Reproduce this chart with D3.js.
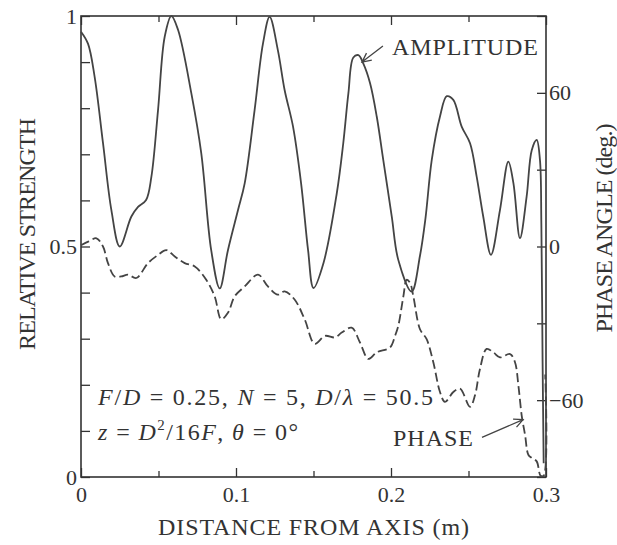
<!DOCTYPE html>
<html lang="en">
<head>
<meta charset="utf-8">
<title>Relative strength and phase vs distance from axis</title>
<script src="https://d3js.org/d3.v7.min.js"></script>
<style>
  body { margin: 0; background: #fff; }
  svg text { font-family: "Liberation Serif", "DejaVu Serif", serif; fill: #333; }
</style>
</head>
<body>
<script>
// amplitude curve
var ampDist = [0, 0.0045, 0.0088, 0.0142, 0.0196, 0.025, 0.0325, 0.0368, 0.042, 0.0454,
  0.0497, 0.054, 0.0583, 0.0626, 0.0712, 0.0776, 0.084, 0.0895, 0.0948, 0.1013,
  0.1056, 0.112, 0.1174, 0.1217, 0.127, 0.1314, 0.1368, 0.142, 0.1465, 0.150,
  0.1565, 0.165, 0.1692, 0.1725, 0.1757, 0.179, 0.1821, 0.1865, 0.1908, 0.195,
  0.2005, 0.2047, 0.2133, 0.2187, 0.2222, 0.2263, 0.2316, 0.236, 0.2402, 0.2456,
  0.251, 0.2553, 0.2595, 0.2645, 0.2703, 0.2757, 0.279, 0.2832, 0.2875, 0.2908,
  0.294, 0.2961, 0.297, 0.2978, 0.2985];
var ampValue = [0.966, 0.94, 0.868, 0.724, 0.579, 0.50, 0.565, 0.586, 0.601, 0.651,
  0.796, 0.955, 1.0, 0.97, 0.832, 0.702, 0.492, 0.409, 0.492, 0.579,
  0.637, 0.796, 0.94, 0.998, 0.926, 0.839, 0.76, 0.637, 0.492, 0.41,
  0.465, 0.615, 0.724, 0.832, 0.91, 0.915, 0.897, 0.854, 0.782, 0.688,
  0.565, 0.471, 0.402, 0.48, 0.56, 0.688, 0.782, 0.826, 0.818, 0.76,
  0.724, 0.651, 0.565, 0.482, 0.579, 0.684, 0.637, 0.518, 0.608, 0.709,
  0.731, 0.688, 0.55, 0.25, 0.03];

// phase curve (degrees)
var phaseDist = [0, 0.005, 0.01, 0.0142, 0.0174, 0.0217, 0.026, 0.0303, 0.0357, 0.0432,
  0.0497, 0.055, 0.0605, 0.0669, 0.0734, 0.0808, 0.0862, 0.0905, 0.0948, 0.0992,
  0.1056, 0.1142, 0.1206, 0.127, 0.1314, 0.1378, 0.1443, 0.1508, 0.1574, 0.1639,
  0.1682, 0.1746, 0.18, 0.1854, 0.1908, 0.1994, 0.2026, 0.2047, 0.208, 0.2101,
  0.2123, 0.2144, 0.2187, 0.223, 0.2273, 0.2316, 0.2348, 0.2402, 0.2445, 0.251,
  0.2542, 0.2574, 0.2617, 0.266, 0.2703, 0.2768, 0.28, 0.2822, 0.2843, 0.2865,
  0.2886, 0.2908, 0.294, 0.2965, 0.2985, 0.2995];
var phaseValue = [0.5, 2, 3.2, 0, -6.5, -11.7, -11.7, -11, -12.3, -6.5,
  -3.3, -1.4, -3.9, -6.5, -7.8, -13, -19.4, -28.4, -25.9, -19.4,
  -15.6, -11, -15.6, -18.8, -17.5, -20.7, -28.4, -38, -34.9, -35.5,
  -33.6, -31.7, -37.5, -43.9, -41.3, -39.4, -34.9, -31, -19.4, -13,
  -14.2, -19.4, -32.3, -36.2, -45.2, -56.8, -60.7, -56.8, -55.5, -62.6,
  -58.1, -47.8, -40, -41.3, -43.3, -42, -45.2, -54.3, -65.9, -73.6,
  -81.3, -82.6, -83.9, -89.5, -89.5, -50];

var xMajor = [0, 0.1, 0.2, 0.3];
var xMinor = [0.05, 0.15, 0.25];
var yTicks = [0, 0.1, 0.2, 0.3, 0.4, 0.5, 0.6, 0.7, 0.8, 0.9, 1];
var yLabels = [0, 0.5, 1];
var phaseTicks = [-90, -60, -30, 0, 30, 60, 90];
var phaseLabels = [-60, 0, 60];

var W = 617, H = 545;
var margin = {top: 16, right: 71, bottom: 68, left: 81};
var ink = "#333";

var svg = d3.select("body").append("svg")
    .attr("width", W)
    .attr("height", H);

var x = d3.scaleLinear().domain([0, 0.3]).range([margin.left, W - margin.right]);
var y = d3.scaleLinear().domain([0, 1]).range([H - margin.bottom, margin.top]);
var yp = d3.scaleLinear().domain([-90, 90]).range([H - margin.bottom, margin.top]);

function styleAxis(g) {
  g.select(".domain").remove();
  g.selectAll(".tick line").attr("stroke", ink).attr("stroke-width", 1.3);
  g.selectAll(".tick text").attr("font-size", 22).attr("fill", ink)
    .attr("font-family", "Liberation Serif, serif");
}

var fmt = function(d) { return d3.format("")(d).replace("-", "\u2212"); };

// bottom axis
svg.append("g").attr("transform", "translate(0," + y(0) + ")")
  .call(d3.axisBottom(x).tickValues(xMajor).tickSizeInner(-9).tickSizeOuter(0)
    .tickPadding(9).tickFormat(fmt))
  .call(styleAxis);
svg.append("g").attr("transform", "translate(0," + y(0) + ")")
  .call(d3.axisBottom(x).tickValues(xMinor).tickSizeInner(-6).tickSizeOuter(0).tickFormat(""))
  .call(styleAxis);
// top axis
svg.append("g").attr("transform", "translate(0," + y(1) + ")")
  .call(d3.axisTop(x).tickValues(xMajor).tickSizeInner(-9).tickSizeOuter(0).tickFormat(""))
  .call(styleAxis);
svg.append("g").attr("transform", "translate(0," + y(1) + ")")
  .call(d3.axisTop(x).tickValues(xMinor).tickSizeInner(-6).tickSizeOuter(0).tickFormat(""))
  .call(styleAxis);
// left axis
svg.append("g").attr("transform", "translate(" + x(0) + ",0)")
  .call(d3.axisLeft(y).tickValues(yTicks).tickSizeInner(-9).tickSizeOuter(0).tickPadding(4)
    .tickFormat(function(d) { return yLabels.indexOf(d) >= 0 ? fmt(d) : ""; }))
  .call(styleAxis);
// right axis
svg.append("g").attr("transform", "translate(" + x(0.3) + ",0)")
  .call(d3.axisRight(yp).tickValues(phaseTicks).tickSizeInner(-9).tickSizeOuter(0).tickPadding(3)
    .tickFormat(function(d) { return phaseLabels.indexOf(d) >= 0 ? fmt(d) : ""; }))
  .call(styleAxis);

// frame
svg.append("rect")
  .attr("x", x(0)).attr("y", y(1))
  .attr("width", x(0.3) - x(0)).attr("height", y(0) - y(1))
  .attr("fill", "none").attr("stroke", ink).attr("stroke-width", 1.6);

// curves
var ampLine = d3.line()
  .x(function(d, i) { return x(ampDist[i]); })
  .y(function(d) { return y(d); })
  .curve(d3.curveCatmullRom.alpha(0.5));
svg.append("path")
  .attr("d", ampLine(ampValue))
  .attr("fill", "none").attr("stroke", "#444").attr("stroke-width", 1.8);

var phaseLine = d3.line()
  .x(function(d, i) { return x(phaseDist[i]); })
  .y(function(d) { return yp(d); })
  .curve(d3.curveCatmullRom.alpha(0.5));
svg.append("path")
  .attr("d", phaseLine(phaseValue))
  .attr("fill", "none").attr("stroke", "#444").attr("stroke-width", 1.8)
  .attr("stroke-dasharray", "9,4");

// axis titles
svg.append("text")
  .attr("x", (x(0) + x(0.3)) / 2).attr("y", 535)
  .attr("text-anchor", "middle").attr("font-size", 24)
  .attr("textLength", 311).attr("lengthAdjust", "spacing")
  .text("DISTANCE FROM AXIS (m)");
svg.append("text")
  .attr("transform", "translate(35,234) rotate(-90)")
  .attr("text-anchor", "middle").attr("font-size", 24)
  .attr("textLength", 232).attr("lengthAdjust", "spacing")
  .text("RELATIVE STRENGTH");
svg.append("text")
  .attr("transform", "translate(612,228) rotate(-90)")
  .attr("text-anchor", "middle").attr("font-size", 24)
  .attr("textLength", 209).attr("lengthAdjust", "spacing")
  .text("PHASE ANGLE (deg.)");

// arrows with open heads
function arrow(x1, y1, x2, y2) {
  var a = Math.atan2(y2 - y1, x2 - x1), L = 10, s = 0.45;
  var p = "M" + x1 + "," + y1 + "L" + x2 + "," + y2 +
    "M" + (x2 - L * Math.cos(a - s)) + "," + (y2 - L * Math.sin(a - s)) +
    "L" + x2 + "," + y2 +
    "L" + (x2 - L * Math.cos(a + s)) + "," + (y2 - L * Math.sin(a + s));
  svg.append("path").attr("d", p).attr("fill", "none")
    .attr("stroke", "#444").attr("stroke-width", 1.3);
}

svg.append("text")
  .attr("x", x(0.2006)).attr("y", y(0.915))
  .attr("font-size", 24).attr("textLength", 146).attr("lengthAdjust", "spacing")
  .text("AMPLITUDE");
arrow(x(0.1948), y(0.935), x(0.1813), y(0.90));

svg.append("text")
  .attr("x", x(0.2529)).attr("y", yp(-78))
  .attr("text-anchor", "end")
  .attr("font-size", 24).attr("textLength", 80).attr("lengthAdjust", "spacing")
  .text("PHASE");
arrow(x(0.2587), yp(-74.5), x(0.2852), yp(-67.6));

// parameter lines
var t1 = svg.append("text")
  .attr("x", x(0.011)).attr("y", y(0.156))
  .attr("font-size", 24).attr("textLength", 335).attr("lengthAdjust", "spacing");
[["F", 1], ["/", 0], ["D", 1], [" = 0.25, ", 0], ["N", 1], [" = 5, ", 0],
 ["D", 1], ["/", 0], ["\u03bb", 1], [" = 50.5", 0]].forEach(function(p) {
  t1.append("tspan").attr("font-style", p[1] ? "italic" : "normal").text(p[0]);
});

var t2 = svg.append("text")
  .attr("x", x(0.011)).attr("y", y(0.08))
  .attr("font-size", 24).attr("textLength", 200).attr("lengthAdjust", "spacing");
t2.append("tspan").attr("font-style", "italic").text("z");
t2.append("tspan").text(" = ");
t2.append("tspan").attr("font-style", "italic").text("D");
t2.append("tspan").attr("font-size", 15).attr("dy", -10).text("2");
t2.append("tspan").attr("dy", 10).text("/16");
t2.append("tspan").attr("font-style", "italic").text("F");
t2.append("tspan").text(", ");
t2.append("tspan").attr("font-style", "italic").text("\u03b8");
t2.append("tspan").text(" = 0\u00b0");
</script>
</body>
</html>
